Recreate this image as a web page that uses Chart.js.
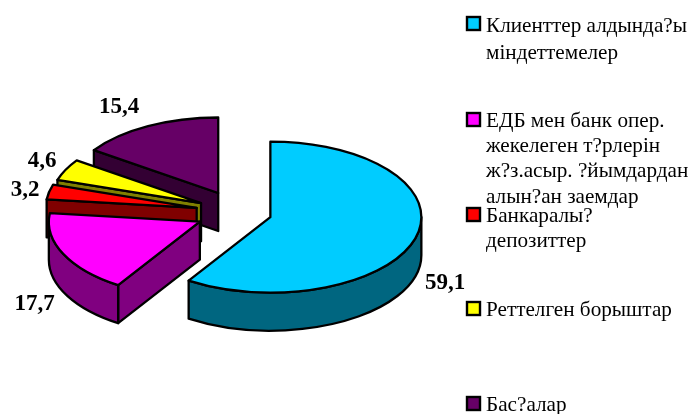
<!DOCTYPE html>
<html>
<head>
<meta charset="utf-8">
<style>
  html, body { margin: 0; padding: 0; background: #fff; }
  canvas { display: block; }
</style>
<script src="https://cdn.jsdelivr.net/npm/chart.js@4/dist/chart.umd.min.js"></script>
</head>
<body>
<canvas id="pieChart" width="693" height="414"></canvas>
<script>
const categories = [
  ['Клиенттер алдында?ы', 'міндеттемелер'],
  ['ЕДБ мен банк опер.', 'жекелеген т?рлерін', 'ж?з.асыр. ?йымдардан', 'алын?ан заемдар'],
  ['Банкаралы?', 'депозиттер'],
  ['Реттелген борыштар'],
  ['Бас?алар']
];
const values = [59.1, 17.7, 3.2, 4.6, 15.4];
const topColors = ['#00CCFF', '#FF00FF', '#FF0000', '#FFFF00', '#660066'];
const sideColors = ['#006680', '#800080', '#800000', '#808000', '#330033'];

// look of the fake 3d pie
const tilt = 0.5;
const depth = 38;
const explode = [33, 43, 43, 42, 44];
const drawOrder = [4, 3, 2, 1, 0];
const labelSpots = [[445, 283], [34.5, 304], [25, 190], [42, 161], [119, 107]];
const legendSwatchY = [17, 113, 208, 302, 397];
const legendBaselines = [[32, 59], [127, 152, 177, 203], [222, 247], [316], [411]];

function sliceShift(arc, i) {
  const mid = (arc.startAngle + arc.endAngle) / 2;
  return { x: arc.x + Math.cos(mid) * explode[i], y: arc.y + Math.sin(mid) * explode[i] * tilt };
}

function drawRadialWall(ctx, c, r, angle) {
  const px = c.x + Math.cos(angle) * r;
  const py = c.y + Math.sin(angle) * r * tilt;
  ctx.beginPath();
  ctx.moveTo(c.x, c.y);
  ctx.lineTo(px, py);
  ctx.lineTo(px, py + depth);
  ctx.lineTo(c.x, c.y + depth);
  ctx.closePath();
  ctx.fill();
  ctx.stroke();
}

function drawSlice(ctx, arc, i) {
  const c = sliceShift(arc, i);
  const r = arc.outerRadius;
  const a0 = arc.startAngle;
  const a1 = arc.endAngle;

  ctx.save();
  ctx.lineWidth = 2.3;
  ctx.lineJoin = 'round';
  ctx.strokeStyle = '#000';
  ctx.fillStyle = sideColors[i];

  // cut faces turned towards the viewer
  if (Math.sin(a0 - Math.PI / 2) > 0.001) drawRadialWall(ctx, c, r, a0);
  if (Math.sin(a1 + Math.PI / 2) > 0.001) drawRadialWall(ctx, c, r, a1);

  // rim, only the part on the lower half
  const from = Math.max(a0, 0);
  const to = Math.min(a1, Math.PI);
  if (to > from) {
    ctx.beginPath();
    ctx.ellipse(c.x, c.y, r, r * tilt, 0, from, to);
    ctx.ellipse(c.x, c.y + depth, r, r * tilt, 0, to, from, true);
    ctx.closePath();
    ctx.fill();
    ctx.stroke();
  }

  // top face comes from the arc element itself, squashed
  ctx.save();
  ctx.translate(c.x, c.y);
  ctx.scale(1, tilt);
  ctx.translate(-arc.x, -arc.y);
  arc.draw(ctx);
  ctx.restore();

  ctx.beginPath();
  ctx.moveTo(c.x, c.y);
  ctx.ellipse(c.x, c.y, r, r * tilt, 0, a0, a1);
  ctx.closePath();
  ctx.stroke();
  ctx.restore();
}

const fakePie3d = {
  id: 'fakePie3d',
  beforeDatasetDraw(chart, args) {
    const ctx = chart.ctx;
    const arcs = args.meta.data;
    drawOrder.forEach((i) => drawSlice(ctx, arcs[i], i));
    return false;
  },
  afterDraw(chart) {
    const ctx = chart.ctx;
    ctx.save();

    // value labels
    ctx.fillStyle = '#000';
    ctx.font = 'bold 23px "Liberation Serif"';
    ctx.textAlign = 'center';
    ctx.textBaseline = 'middle';
    values.forEach((v, i) => {
      ctx.fillText(v.toFixed(1).replace('.', ','), labelSpots[i][0], labelSpots[i][1]);
    });

    // legend
    ctx.textAlign = 'left';
    ctx.textBaseline = 'alphabetic';
    ctx.font = '21.2px "Liberation Serif"';
    categories.forEach((lines, i) => {
      ctx.fillStyle = topColors[i];
      ctx.strokeStyle = '#000';
      ctx.lineWidth = 2.4;
      ctx.fillRect(467, legendSwatchY[i], 13, 13);
      ctx.strokeRect(467, legendSwatchY[i], 13, 13);
      ctx.fillStyle = '#000';
      lines.forEach((line, j) => ctx.fillText(line, 486, legendBaselines[i][j]));
    });
    ctx.restore();
  }
};

new Chart(document.getElementById('pieChart'), {
  type: 'pie',
  data: {
    labels: categories.map((lines) => lines.join(' ')),
    datasets: [{
      data: values,
      backgroundColor: topColors,
      borderWidth: 0,
      clip: false
    }]
  },
  options: {
    responsive: false,
    animation: false,
    radius: 151,
    layout: { padding: { top: 11, right: 215.6 } },
    plugins: {
      legend: { display: false },
      tooltip: { enabled: false }
    }
  },
  plugins: [fakePie3d]
});
</script>
</body>
</html>
